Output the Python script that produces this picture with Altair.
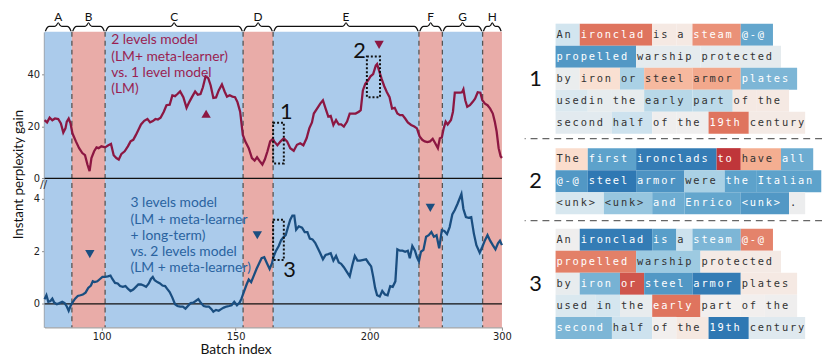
import altair as alt
import numpy as np
import pandas as pd

# ---------------- data ----------------
top_x = [78.7, 79.65, 80.6, 81.6, 82.6, 83.8, 84.8, 85.7, 86.5, 87.0, 87.7, 88.4, 89.1, 90.4, 91.6,
         92.8, 93.8, 94.7, 95.5, 96.2, 97.2, 98.1, 98.9, 99.9, 101.3, 102.5, 103.5, 104.5, 105.5,
         106.4, 107.4, 108.6, 109.8, 110.8, 111.8, 112.8, 113.7, 114.7, 115.9, 117.1, 118.1, 119.1,
         120.1, 121.0, 122.0, 123.2, 124.2, 125.4, 126.4, 127.4, 128.3, 129.3, 130.5, 131.7, 132.7,
         133.7, 134.9, 135.9, 136.9, 137.8, 138.8, 139.8, 140.7, 141.7, 142.7, 143.7, 144.9, 145.9,
         146.8, 147.8, 148.8, 149.8, 150.7, 151.7, 152.7, 153.6, 154.9, 156.1, 157.1, 158.0, 159.0,
         160.0, 160.9, 161.9, 162.9, 163.9, 164.4, 165.6, 166.8, 168.0, 169.2, 170.4, 171.7, 172.9,
         174.1, 175.3, 176.5, 177.5, 178.5, 179.2, 180.4, 181.6, 182.6, 183.6, 184.6, 185.5, 186.5,
         187.5, 188.5, 189.4, 190.4, 191.6, 192.6, 193.6, 194.8, 196.0, 196.7, 197.5, 198.4, 199.4,
         200.7, 202.7, 204.7, 205.7, 207.2, 209.1, 211.1, 213.1, 215.1, 217.0, 219.0, 221.0, 223.0,
         224.9, 226.9, 228.9, 231.4, 233.8, 235.8, 237.8, 239.8, 241.7, 243.7, 245.7, 247.7, 249.6,
         251.6, 253.1, 254.6, 256.0, 257.5, 259.0, 261.5, 263.0, 264.4, 266.4, 268.4, 269.9, 270.9,
         272.3, 273.8, 275.8, 277.8, 279.7, 281.7, 283.7, 285.2, 287.2, 289.1, 291.1, 293.1, 294.6,
         296.0, 297.5, 299.0, 300.0]
top_y = [22.4, 21.5, 23.3, 22.3, 23.0, 22.8, 21.1, 17.6, 19.2, 21.8, 23.0, 21.1, 17.3, 14.2, 11.6,
         9.7, 8.9, 5.3, 2.8, 7.8, 10.4, 11.9, 11.6, 12.3, 11.9, 12.7, 13.2, 8.9, 7.8,
         7.2, 9.4, 10.4, 12.3, 14.2, 14.8, 16.7, 18.6, 20.7, 22.1, 22.8, 21.5, 22.0,
         22.8, 22.6, 23.3, 25.6, 28.1, 28.3, 31.9, 31.6, 32.4, 33.4, 31.2, 27.1, 29.3,
         31.2, 33.4, 32.1, 32.4, 35.0, 39.2, 38.5, 35.7, 30.9, 31.1, 33.8, 36.1, 33.4,
         31.4, 31.9, 31.4, 31.2, 29.3, 25.6, 16.7, 14.2, 11.6, 7.8, 6.8, 8.1, 6.6,
         5.3, 7.2, 10.4, 14.2, 15.2, 14.2, 12.7, 14.2, 15.4, 14.2, 11.6, 10.6, 12.9,
         13.5, 12.7, 15.4, 19.2, 21.5, 24.9, 26.8, 28.7, 30.0, 26.8, 23.7, 24.0, 20.5,
         22.4, 20.7, 20.7, 19.9, 21.8, 24.9, 24.9, 24.9, 25.6, 26.2, 33.8, 36.3, 37.6,
         39.2, 40.1, 43.3, 43.9, 41.4, 38.2, 35.4, 33.1, 31.2, 26.8, 27.1, 24.9, 24.3,
         24.3, 23.0, 21.5, 20.5, 19.9, 19.2, 16.1, 14.8, 14.2, 13.9, 14.2, 15.2, 13.5,
         11.6, 15.4, 15.7, 19.2, 21.8, 20.7, 22.4, 25.6, 32.9, 32.9, 32.9, 33.1, 34.2,
         30.0, 27.5, 28.1, 29.3, 30.6, 33.1, 32.9, 30.0, 28.7, 28.1, 26.8, 24.9, 21.8,
         18.0, 11.6, 8.5, 7.8]

bot_x = [78.7, 79.4, 80.1, 80.9, 81.6, 82.3, 83.3, 84.3, 85.3, 86.2, 87.0, 87.7, 88.4, 89.1, 90.1,
         91.1, 92.1, 93.0, 94.0, 95.0, 96.0, 96.7, 97.4, 98.4, 99.4, 100.3, 101.3, 102.3, 103.3,
         104.0, 105.0, 106.0, 106.9, 107.9, 108.9, 109.8, 110.8, 111.8, 112.8, 113.7, 114.7, 115.7,
         116.6, 117.6, 118.4, 119.1, 119.8, 120.8, 121.8, 122.7, 123.7, 124.4, 125.4, 126.4, 127.4,
         128.3, 129.3, 130.3, 131.3, 132.2, 133.2, 134.2, 135.1, 136.1, 137.1, 138.1, 139.0, 140.0,
         141.0, 141.7, 142.7, 143.7, 144.6, 145.6, 146.6, 147.6, 148.5, 149.5, 150.5, 151.5, 152.2,
         153.2, 154.1, 154.9, 155.8, 156.8, 157.8, 158.8, 159.7, 160.7, 161.7, 162.7, 163.6, 164.1,
         165.1, 166.1, 167.0, 168.0, 168.7, 169.5, 170.4, 171.2, 171.9, 172.6, 173.6, 174.8, 175.8,
         176.8, 177.7, 178.7, 179.7, 180.7, 181.6, 182.6, 183.6, 184.6, 185.5, 186.5, 187.5, 188.5,
         189.4, 190.4, 191.4, 192.6, 193.6, 194.5, 195.5, 196.5, 197.7, 198.7, 199.7, 201.2, 202.7,
         204.2, 205.7, 207.7, 209.6, 211.6, 213.6, 215.6, 217.5, 219.5, 221.0, 223.0, 224.9, 226.9,
         228.9, 230.4, 232.3, 234.3, 235.8, 237.3, 238.8, 240.7, 242.7, 244.7, 246.7, 248.6, 250.6,
         252.6, 254.6, 256.5, 258.5, 260.5, 262.5, 264.4, 266.4, 267.9, 269.4, 270.9, 272.8, 274.8,
         276.8, 278.8, 280.7, 283.2, 285.2, 287.2, 289.1, 291.1, 293.1, 295.1, 297.0, 298.5, 300.0]
bot_y = [0.18, 0.33, 0.08, 0.11, 0.20, 0.05, -0.01, 0.03, 0.08, 0.03, -0.10, -0.26, -0.08, 0.05, 0.20,
         0.30, 0.33, 0.36, 0.43, 0.61, 0.70, 0.86, 0.83, 0.86, 0.95, 1.03, 1.03, 1.05, 1.08,
         0.95, 0.80, 0.78, 0.68, 0.65, 0.68, 0.58, 0.49, 0.55, 0.65, 0.74, 0.74, 0.70,
         0.65, 0.78, 0.95, 1.03, 0.90, 0.83, 0.78, 0.70, 0.68, 0.58, 0.45, 0.24, -0.01,
         -0.08, -0.10, -0.10, -0.18, -0.08, 0.03, 0.05, 0.11, 0.18, 0.03, -0.08, -0.10, -0.10,
         -0.20, -0.30, -0.23, -0.26, -0.20, -0.14, -0.10, -0.08, -0.05, 0.08, -0.05, 0.05, 0.20,
         0.49, 0.74, 0.93, 0.83, 1.08, 1.33, 1.55, 1.74, 1.78, 1.55, 1.33, 1.55, 1.78,
         2.03, 2.21, 2.43, 2.56, 2.62, 2.91, 3.21, 3.37, 3.37, 2.83, 2.96, 2.91, 2.74,
         2.74, 2.49, 2.46, 2.33, 2.12, 1.93, 1.70, 1.87, 1.90, 1.93, 1.65, 1.83, 1.58,
         1.53, 1.40, 1.24, 1.05, 1.49, 1.83, 1.65, 1.65, 1.68, 1.70, 1.55, 1.43, 1.05,
         0.61, 0.33, 0.28, 0.49, 0.36, 0.33, 0.68, 0.65, 0.86, 2.08, 2.03, 2.03, 1.99,
         2.03, 1.74, 2.21, 2.03, 1.78, 1.62, 1.99, 2.06, 2.56, 2.62, 2.74, 2.56, 2.62,
         2.12, 2.81, 2.78, 2.66, 2.93, 3.41, 3.58, 3.81, 4.00, 4.19, 3.62, 3.31, 3.28,
         3.31, 2.68, 2.24, 1.95, 2.18, 2.43, 2.62, 2.41, 2.24, 2.08, 2.31, 2.41, 2.24]

seg_bounds = [78.7, 88.9, 101.3, 152.8, 164.0, 237.3, 255.0, 285.4, 300.0]
seg_labels = ["A", "B", "C", "D", "E", "F", "G", "H"]
seg_kind = ["good", "bad", "good", "bad", "good", "bad", "good", "bad"]
x_ticks = [100, 150, 200, 300]

top_tri_x = [139.0, 207.2]
top_tri_y = [24.8, 51.3]
top_tri_shape = ["triangle-up", "triangle-down"]
bot_tri_x = [95.6, 158.1, 245.9]
bot_tri_y = [1.9, 2.62, 3.66]

top_box_x0 = [164.0, 199.0]
top_box_x1 = [168.0, 207.9]
top_box_y0 = [5.7, 31.2]
top_box_y1 = [21.4, 46.8]
top_box_lbl = ["1", "2"]
top_box_lx = [168.9, 196.3]
top_box_ly = [25.5, 49.0]
bot_box_x0 = [164.0]
bot_box_x1 = [168.0]
bot_box_y0 = [1.67]
bot_box_y1 = [3.21]
bot_box_lbl = ["3"]
bot_box_lx = [170.1]
bot_box_ly = [1.3]

top_note = ["2 levels model", "(LM+ meta-learner)", "vs. 1 level model", "(LM)"]
bot_note = ["3 levels model", "(LM + meta-learner", "+ long-term)", "vs. 2 levels model",
            "(LM + meta-learner)"]

p1_tokens = [["An ", "ironclad ", "is ", "a ", "steam ", "@-@ "],
             ["propelled ", "warship ", "protected "],
             ["by ", "iron ", "or ", "steel ", "armor ", "plates "],
             ["used", "in ", "the ", "early ", "part ", "of ", "the "],
             ["second ", "half ", "of ", "the ", "19th ", "century"]]
p1_scores = [[0.2, -0.6, -0.06, -0.06, -0.5, 0.58],
             [0.65, 0.08, 0.08],
             [0.05, -0.15, 0.35, -0.35, -0.42, 0.5],
             [0.15, 0.07, 0.07, 0.3, 0.28, -0.06, -0.06],
             [0.1, 0.22, 0.02, 0.02, -0.6, -0.05]]
p2_tokens = [["The ", "first ", "ironclads ", "to ", "have ", "all "],
             ["@-@ ", "steel ", "armor ", "were ", "the ", "Italian "],
             ["<unk> ", "<unk> ", "and ", "Enrico ", "<unk> ", ". "]]
p2_scores = [[-0.18, 0.6, 0.78, -0.8, -0.4, 0.55],
             [0.65, 0.8, 0.67, 0.35, 0.6, 0.6],
             [0.17, 0.42, 0.55, 0.58, 0.65, 0.04]]
p3_tokens = [["An ", "ironclad ", "is ", "a ", "steam ", "@-@ "],
             ["propelled ", "warship ", "protected "],
             ["by ", "iron ", "or ", "steel ", "armor ", "plates "],
             ["used ", "in ", "the ", "early ", "part ", "of ", "the "],
             ["second ", "half ", "of ", "the ", "19th ", "century"]]
p3_scores = [[0.02, 0.78, 0.62, 0.22, 0.5, -0.55],
             [-0.56, 0.4, -0.05],
             [0.06, 0.52, -0.7, 0.65, 0.78, -0.06],
             [0.15, 0.18, 0.06, -0.6, 0.0, 0.0, 0.02],
             [0.5, 0.22, 0.0, -0.07, 0.8, 0.12]]
panel_names = ["1", "2", "3"]

# ---------------- layout / style ----------------
W = 463
X_DOMAIN = [78.7, 200.0, 300.0]
X_RANGE = [0, round(W * 332 / 467), W]
H_BRACE, H_TOP, H_BOT = 21, 153, 146
BLUE_BG, RED_BG = "#abcbeb", "#e9aca8"
CRIMSON, NAVY = "#8c1742", "#1a4e80"
CRIMSON_TXT, NAVY_TXT = "#9a1f52", "#2a63a0"
SANS = "Lato"
SP = 12
RW, RH = 301, 340
CW = 8.15
ROWH = 22.3
PANEL_START = [0.0, 5.65, 9.31]
SEPARATORS = [5.22, 8.94]


def to_px(v):
    return float(np.interp(v, X_DOMAIN, X_RANGE))


xscale = alt.Scale(domain=X_DOMAIN, range=X_RANGE, nice=False, zero=False)
y_top_scale = alt.Scale(domain=[-1.8, 56.3], nice=False, zero=False)
y_bot_scale = alt.Scale(domain=[-0.89, 4.61], nice=False, zero=False)

axis_common = dict(grid=False, labelFont="DejaVu Sans", labelFontSize=10, labelColor="#222",
                   tickColor="#888", tickSize=3)
y_top_axis = alt.Axis(values=[0, 20, 40], title="Instant perplexity gain", titleY=144,
                      titleFont=SANS, titleFontSize=13.5, titleFontWeight="normal",
                      titleColor="#111", titlePadding=2, domainColor="#9a9a9a", domainWidth=2.5,
                      labelPadding=2, **axis_common)
y_bot_axis = alt.Axis(values=[0, 2, 4], title="", domainColor="#9a9a9a", domainWidth=2.5,
                      labelPadding=2, **axis_common)
x_bot_axis = alt.Axis(values=x_ticks, title="Batch index", titleFont=SANS, titleFontSize=14,
                      titleFontWeight="normal", titleColor="#111", titleX=to_px(150),
                      titleY=23, titleBaseline="middle", domainColor="#a8a8a8", domainWidth=1.5,
                      labelFlush=False, labelPadding=1, **axis_common)

seg_df = pd.DataFrame({"start": seg_bounds[:-1], "end": seg_bounds[1:], "kind": seg_kind})
bound_df = pd.DataFrame({"b": seg_bounds[1:-1]})


def panel(height, line_x, line_y, line_color, yscale, yaxis, xaxis, tri_df, tri_color,
          box_df, note_lines, note_x, note_y, note_color, extra=None):
    def X(field):
        return alt.X(field, type="quantitative", scale=xscale, axis=xaxis)

    def Y(field):
        return alt.Y(field, type="quantitative", scale=yscale, axis=yaxis)

    line_df = pd.DataFrame({"x": line_x, "y": line_y})
    bg = alt.Chart(seg_df).mark_rect().encode(
        x=X("start"), x2="end:Q", y=alt.value(0), y2=alt.value(height),
        color=alt.Color("kind:N", scale=alt.Scale(domain=["good", "bad"], range=[BLUE_BG, RED_BG]),
                        legend=None))
    dashes = alt.Chart(bound_df).mark_rule(color="#555", strokeDash=[5, 4], strokeWidth=1.3).encode(
        x=X("b"))
    zero = alt.Chart(pd.DataFrame({"z": [0]})).mark_rule(color="#111", strokeWidth=1.3).encode(
        y=Y("z"))
    line = alt.Chart(line_df).mark_line(color=line_color, strokeWidth=2.3).encode(
        x=X("x"), y=Y("y"))
    tri = alt.Chart(tri_df).mark_point(filled=True, opacity=1, size=90, color=tri_color).encode(
        x=X("x"), y=Y("y"), shape=alt.Shape("shape:N", scale=None))
    boxes = alt.Chart(box_df).mark_rect(fillOpacity=0, stroke="#111", strokeWidth=2,
                                        strokeDash=[2, 2]).encode(
        x=X("x0"), x2="x1:Q", y=Y("y0"), y2="y1:Q")
    blabels = alt.Chart(box_df).mark_text(fontSize=22, font=SANS, color="#111").encode(
        x=X("lx"), y=Y("ly"), text="lbl:N")
    note = alt.Chart(pd.DataFrame({"x": [note_x], "y": [note_y]})).mark_text(
        text=note_lines, align="left", baseline="top", lineHeight=16.5, fontSize=14,
        font=SANS, color=note_color).encode(x=X("x"), y=Y("y"))
    layers = [bg, dashes, zero, line, tri, boxes, blabels, note]
    if extra is not None:
        layers.append(extra)
    return alt.layer(*layers).properties(width=W, height=height)


top_tri_df = pd.DataFrame({"x": top_tri_x, "y": top_tri_y, "shape": top_tri_shape})
bot_tri_df = pd.DataFrame({"x": bot_tri_x, "y": bot_tri_y,
                           "shape": ["triangle-down"] * len(bot_tri_x)})
top_box_df = pd.DataFrame({"x0": top_box_x0, "x1": top_box_x1, "y0": top_box_y0,
                           "y1": top_box_y1, "lbl": top_box_lbl, "lx": top_box_lx,
                           "ly": top_box_ly})
bot_box_df = pd.DataFrame({"x0": bot_box_x0, "x1": bot_box_x1, "y0": bot_box_y0,
                           "y1": bot_box_y1, "lbl": bot_box_lbl, "lx": bot_box_lx,
                           "ly": bot_box_ly})

top_chart = panel(H_TOP, top_x, top_y, CRIMSON, y_top_scale, y_top_axis, None, top_tri_df,
                  CRIMSON, top_box_df, top_note, 103.6, 55.7, CRIMSON_TXT)
brk = alt.Chart(pd.DataFrame({"k": [0]})).mark_text(
    text="//", fontSize=11, color="#333", font="DejaVu Sans").encode(
    x=alt.value(-1), y=alt.value(2))
bot_chart = panel(H_BOT, bot_x, bot_y, NAVY, y_bot_scale, y_bot_axis, x_bot_axis, bot_tri_df,
                  NAVY, bot_box_df, bot_note, 110.8, 4.1, NAVY_TXT, extra=brk)

# ---------------- braces ----------------
bpx = [to_px(b) for b in seg_bounds]
brace_rows = []
letter_rows = []
for i, lab in enumerate(seg_labels):
    a, b = bpx[i] + 0.8, bpx[i + 1] - 0.8
    m = (a + b) / 2
    d = min(4.0, (b - a) / 5)
    pts = [(a, 0.03), (a + d * 0.5, 0.21), (a + d, 0.26), (m - d, 0.26), (m - d * 0.5, 0.31),
           (m, 0.44), (m + d * 0.5, 0.31), (m + d, 0.26), (b - d, 0.26), (b - d * 0.5, 0.21),
           (b, 0.03)]
    for k, (px, py) in enumerate(pts):
        brace_rows.append({"seg": lab, "k": k, "px": px, "py": py})
    letter_rows.append({"label": lab, "px": m, "py": 0.72})
brace_df = pd.DataFrame(brace_rows)
letter_df = pd.DataFrame(letter_rows)
bxs = alt.Scale(domain=[0, W], nice=False, zero=False)
bys = alt.Scale(domain=[0, 1], nice=False, zero=False)
braces = alt.layer(
    alt.Chart(brace_df).mark_line(color="#111", strokeWidth=1.2, interpolate="monotone").encode(
        x=alt.X("px:Q", scale=bxs, axis=None), y=alt.Y("py:Q", scale=bys, axis=None),
        detail="seg:N", order="k:Q"),
    alt.Chart(letter_df).mark_text(fontSize=12, font=SANS, color="#111").encode(
        x=alt.X("px:Q", scale=bxs, axis=None), y=alt.Y("py:Q", scale=bys, axis=None),
        text="label:N"),
).properties(width=W, height=H_BRACE)

# ---------------- token panels ----------------
cells, chars, nums = [], [], []
for pi, (toks, scs) in enumerate([(p1_tokens, p1_scores), (p2_tokens, p2_scores),
                                  (p3_tokens, p3_scores)]):
    r0 = PANEL_START[pi]
    for ri, (row_t, row_s) in enumerate(zip(toks, scs)):
        col = 0
        for t, s in zip(row_t, row_s):
            cells.append({"x0": col, "x1": col + len(t), "y0": r0 + ri, "y1": r0 + ri + 1,
                          "score": s})
            fg = "#ffffff" if abs(s) >= 0.48 else "#333333"
            for ci, ch in enumerate(t):
                if ch != " ":
                    chars.append({"x": col + ci + 0.5, "y": r0 + ri + 0.5, "ch": ch, "fg": fg})
            col += len(t)
    nums.append({"x": -2.5, "y": r0 + len(toks) / 2, "t": panel_names[pi]})
cell_df = pd.DataFrame(cells)
char_df = pd.DataFrame(chars)
num_df = pd.DataFrame(nums)
sep_df = pd.DataFrame({"y": SEPARATORS})

RX0 = -31.3 / CW
RY0 = -12.7 / ROWH
rxs = alt.Scale(domain=[RX0, RX0 + RW / CW], nice=False, zero=False)
rys = alt.Scale(domain=[RY0, RY0 + RH / ROWH], nice=False, zero=False, reverse=True)

right = alt.layer(
    alt.Chart(cell_df).mark_rect().encode(
        x=alt.X("x0:Q", scale=rxs, axis=None), x2="x1:Q",
        y=alt.Y("y0:Q", scale=rys, axis=None), y2="y1:Q",
        color=alt.Color("score:Q", scale=alt.Scale(scheme="redblue", domain=[-1, 1]),
                        legend=None)),
    alt.Chart(char_df).mark_text(font="DejaVu Sans Mono", fontSize=10.5, baseline="middle").encode(
        x=alt.X("x:Q", scale=rxs, axis=None), y=alt.Y("y:Q", scale=rys, axis=None),
        text="ch:N", color=alt.Color("fg:N", scale=None)),
    alt.Chart(num_df).mark_text(font=SANS, fontSize=22, color="#111").encode(
        x=alt.X("x:Q", scale=rxs, axis=None), y=alt.Y("y:Q", scale=rys, axis=None), text="t:N"),
    alt.Chart(sep_df).mark_rule(color="#666", strokeDash=[7, 5], strokeWidth=1.4).encode(
        y=alt.Y("y:Q", scale=rys, axis=None)),
).properties(width=RW, height=RH)

left = alt.vconcat(braces, top_chart, bot_chart, spacing=0, bounds="flush")
chart = alt.hconcat(left, right, spacing=SP).properties(
    padding={"left": 3, "top": 0, "right": 0, "bottom": 0},
    background="white").configure_view(strokeWidth=0)

chart.save("out.html", embed_options={"renderer": "svg", "actions": False})
